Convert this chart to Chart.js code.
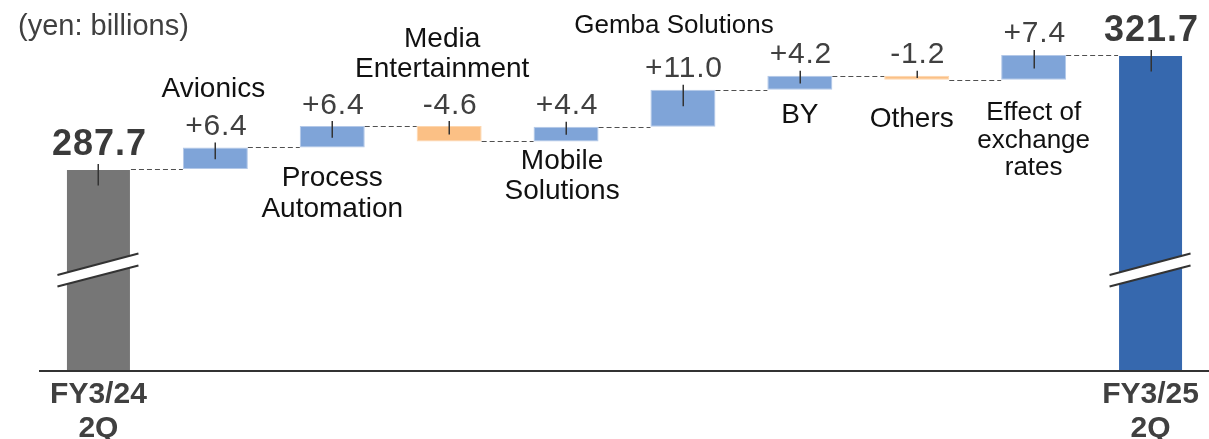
<!DOCTYPE html>
<html><head><meta charset="utf-8">
<script src="https://cdn.jsdelivr.net/npm/chart.js@4.4.1/dist/chart.umd.min.js"></script>
<style>html,body{margin:0;padding:0;background:#fff;overflow:hidden}
#wrap{position:relative;width:1209px;height:439px}</style></head>
<body><div id="wrap"><canvas id="c" width="1209" height="439"></canvas></div>
<script>
// ---- data ----
const categories = ['FY3/24 2Q','Avionics','Process Automation','Media Entertainment','Mobile Solutions','Gemba Solutions','BY','Others','Effect of exchange rates','FY3/25 2Q'];
const startTotal = 287.7;
const endTotal = 321.7;
const changes = [6.4, 6.4, -4.6, 4.4, 11.0, 4.2, -1.2, 7.4];
const valueLabels = ['287.7','+6.4','+6.4','-4.6','+4.4','+11.0','+4.2','-1.2','+7.4','321.7'];
const axisLabels = [['FY3/24','2Q'], null, null, null, null, null, null, null, null, ['FY3/25','2Q']];
const categoryLines = [null, ['Avionics'], ['Process','Automation'], ['Media','Entertainment'], ['Mobile','Solutions'], ['Gemba Solutions'], ['BY'], ['Others'], ['Effect of','exchange','rates'], null];
const unitLabel = '(yen: billions)';

// ---- scale range (broken axis) ----
const Y_MIN = 227.4, Y_MAX = 338.1;

const floating = [[Y_MIN, startTotal]];
let run = startTotal;
const levels = [startTotal];
changes.forEach(d => { const nxt = Math.round((run + d) * 10) / 10; floating.push([run, nxt]); run = nxt; levels.push(run); });
floating.push([Y_MIN, endTotal]);
levels.push(endTotal);

const COL_START = '#767676', COL_END = '#3668AE', COL_UP = '#7FA4D8', COL_DOWN = '#FBC085';
const colors = floating.map((v, i) => i === 0 ? COL_START : i === floating.length - 1 ? COL_END : (changes[i-1] >= 0 ? COL_UP : COL_DOWN));
const borders = floating.map((v, i) => i === 0 || i === floating.length - 1 ? 'rgba(0,0,0,0)' : (changes[i-1] >= 0 ? '#B3C8E8' : '#FDD6AE'));

const FONT = "'Liberation Sans', Arial, sans-serif";

// label layout (pixels): anchor 'top' -> last-line baseline relative to bar top; 'bottom' -> first-line baseline relative to bar bottom
const labelLayout = {
  1: {anchor:'top', dy:-50, dx:-2, size:28, lh:30},
  2: {anchor:'bottom', dy:38.5, dx:0, size:28, lh:31.5},
  3: {anchor:'top', dy:-49, dx:-7, size:28, lh:30},
  4: {anchor:'bottom', dy:28, dx:-4, size:28, lh:29.5},
  5: {anchor:'top', dy:-57, dx:-9, size:26, lh:28},
  6: {anchor:'bottom', dy:33, dx:0, size:28, lh:30},
  7: {anchor:'bottom', dy:47, dx:-5, size:28, lh:30},
  8: {anchor:'bottom', dy:40, dx:0, size:26, lh:27.8}
};

const waterfallPlugin = {
  id: 'waterfall',
  afterDatasetsDraw(chart) {
    const ctx = chart.ctx;
    const meta = chart.getDatasetMeta(0);
    const y = chart.scales.y;
    const ca = chart.chartArea;
    const bars = meta.data.map(el => {
      const p = el.getProps(['x','y','base','width'], true);
      return {cx: p.x, left: p.x - p.width/2, right: p.x + p.width/2, top: Math.min(p.y, p.base), bottom: Math.min(Math.max(p.y, p.base), ca.bottom)};
    });
    ctx.save();
    // dashed connectors
    ctx.strokeStyle = '#505050'; ctx.lineWidth = 1.2; ctx.setLineDash([5,3]);
    for (let i = 0; i < bars.length - 1; i++) {
      const py = Math.round(y.getPixelForValue(levels[i])) + 0.5;
      ctx.beginPath(); ctx.moveTo(bars[i].right, py); ctx.lineTo(bars[i+1].left, py); ctx.stroke();
    }
    ctx.setLineDash([]);
    // break marks on total bars
    [0, bars.length - 1].forEach(i => {
      const b = bars[i];
      const x1 = b.cx - 41, x2 = b.cx + 40;
      const uL = ca.bottom - 96, uR = ca.bottom - 117.5, lL = ca.bottom - 84.5, lR = ca.bottom - 105.5;
      ctx.fillStyle = '#fff';
      ctx.beginPath(); ctx.moveTo(x1, uL); ctx.lineTo(x2, uR); ctx.lineTo(x2, lR); ctx.lineTo(x1, lL); ctx.closePath(); ctx.fill();
      ctx.strokeStyle = '#333'; ctx.lineWidth = 2;
      ctx.beginPath(); ctx.moveTo(x1, uL); ctx.lineTo(x2, uR); ctx.moveTo(x1, lL); ctx.lineTo(x2, lR); ctx.stroke();
    });
    // small vertical marks
    ctx.strokeStyle = '#333'; ctx.lineWidth = 1.5;
    bars.forEach((b, i) => {
      const h = (i === 0 || i === bars.length-1) ? 40 : b.bottom - b.top;
      const x = Math.round(b.cx) + 0.25;
      ctx.beginPath(); ctx.moveTo(x, b.top - 5); ctx.lineTo(x, b.top + Math.min(16.5, 0.55 * h)); ctx.stroke();
    });
    // value labels
    ctx.textAlign = 'center'; ctx.textBaseline = 'alphabetic';
    bars.forEach((b, i) => {
      const total = (i === 0 || i === bars.length - 1);
      ctx.font = (total ? 'bold 36px ' : '30px ') + FONT;
      ctx.letterSpacing = total ? '1px' : '0.8px';
      ctx.fillStyle = total ? '#3a3a3a' : '#404040';
      ctx.fillText(valueLabels[i], b.cx + 1, b.top - (total ? 14 : 12.5));
    });
    ctx.letterSpacing = '0px';
    // category labels
    bars.forEach((b, i) => {
      const lines = categoryLines[i]; const L = labelLayout[i];
      if (!lines || !L) return;
      ctx.font = L.size + 'px ' + FONT; ctx.fillStyle = '#111';
      let base = L.anchor === 'top' ? b.top + L.dy : b.bottom + L.dy;
      if (L.anchor === 'top') base -= (lines.length - 1) * L.lh;
      lines.forEach((t, k) => ctx.fillText(t, b.cx + L.dx, base + k * L.lh));
    });
    // unit label
    ctx.textAlign = 'left'; ctx.font = '29px ' + FONT; ctx.fillStyle = '#404040';
    ctx.fillText(unitLabel, 18, 35);
    ctx.restore();
  }
};

new Chart(document.getElementById('c'), {
  type: 'bar',
  data: {
    labels: categories,
    datasets: [{
      data: floating,
      backgroundColor: colors,
      borderColor: borders,
      borderWidth: 1,
      borderSkipped: false,
      categoryPercentage: 1,
      barPercentage: 0.556
    }]
  },
  options: {
    responsive: false,
    animation: false,
    devicePixelRatio: 1,
    layout: {padding: {left: 40, right: 0, top: 0, bottom: 0}},
    plugins: {legend: {display: false}, tooltip: {enabled: false}, title: {display: false}},
    scales: {
      y: {display: false, min: Y_MIN, max: Y_MAX},
      x: {
        grid: {display: true, drawOnChartArea: false, drawTicks: false},
        border: {display: true, color: '#333', width: 2},
        ticks: {
          autoSkip: false, maxRotation: 0, padding: 7,
          color: '#404040',
          font: {family: FONT, size: 30, weight: 'bold', lineHeight: 1.12},
          callback: (v, i) => axisLabels[i] || ''
        },
        afterFit: s => { s.height = 68; }
      }
    }
  },
  plugins: [waterfallPlugin]
});
</script></body></html>
